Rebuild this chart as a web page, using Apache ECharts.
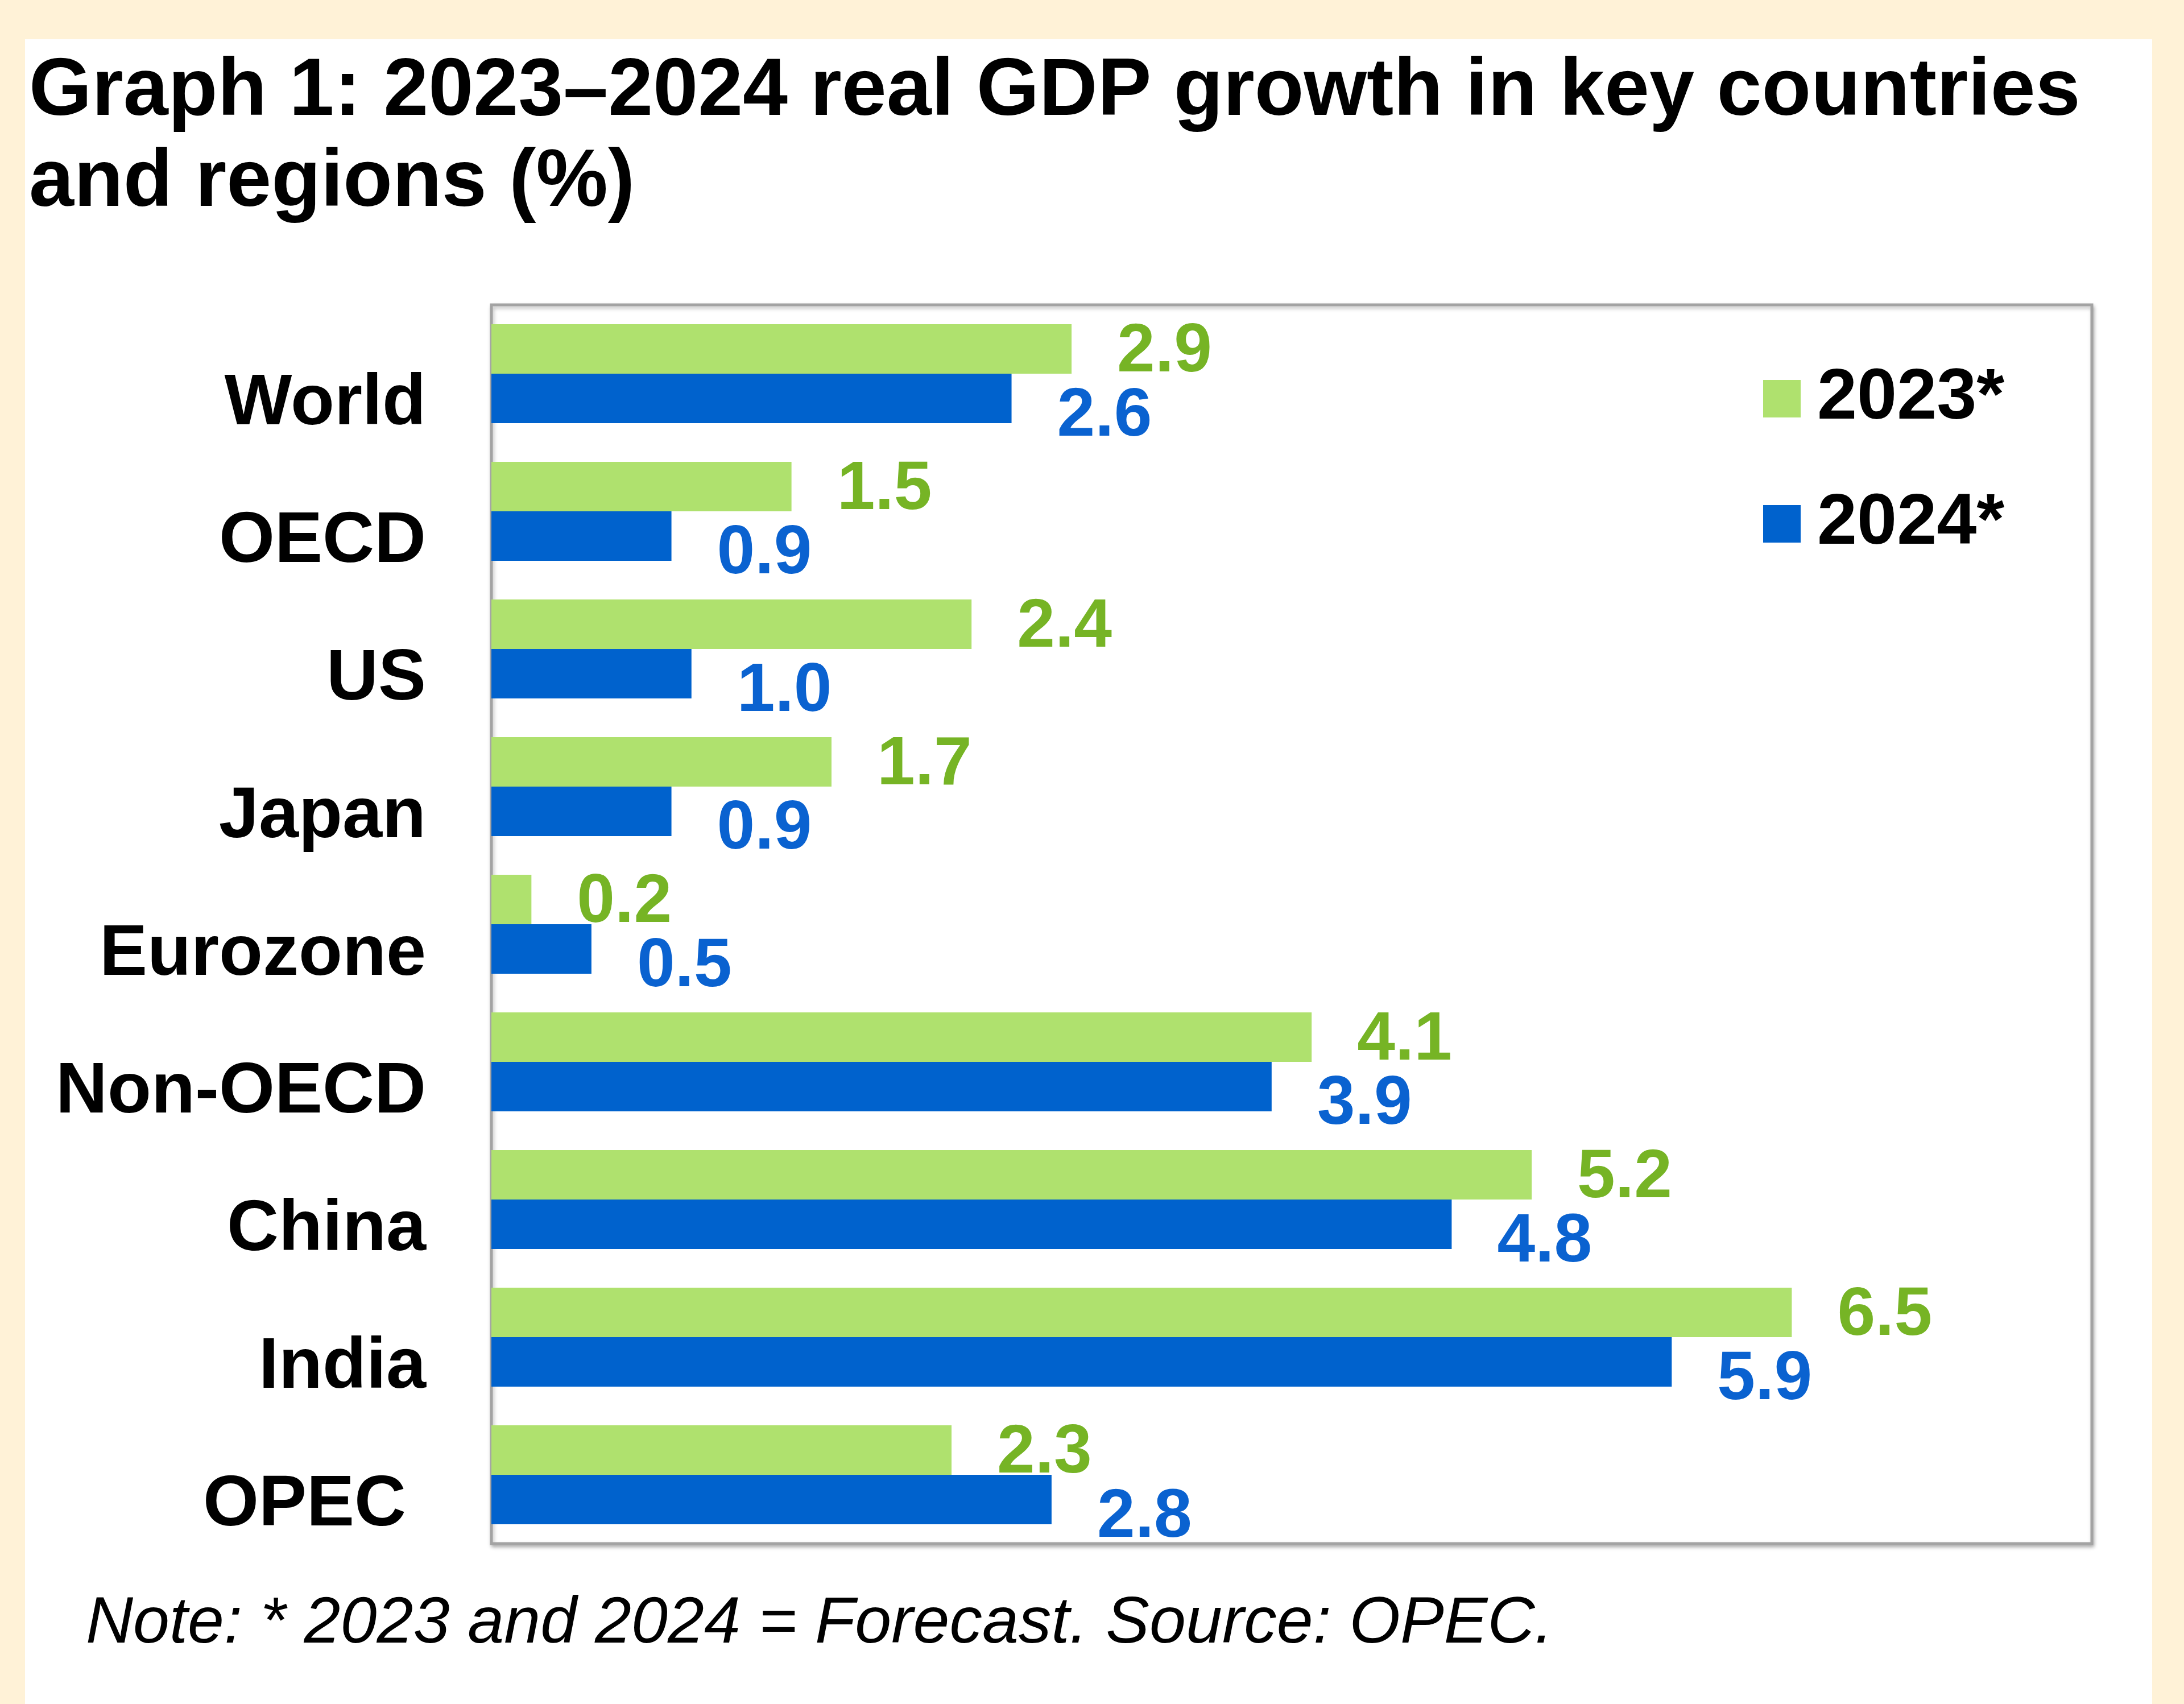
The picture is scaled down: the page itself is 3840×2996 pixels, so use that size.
<!DOCTYPE html>
<html>
<head>
<meta charset="utf-8">
<script src="https://cdn.jsdelivr.net/npm/echarts@6/dist/echarts.min.js"></script>
<style>
html,body{margin:0;padding:0;background:#FFF2D7;}
#chart{width:3840px;height:2996px;}
</style>
</head>
<body>
<div id="chart"></div>
<script>
const categories = ["World", "OECD", "US", "Japan", "Eurozone", "Non-OECD", "China", "India", "OPEC "];
const seriesNames = ["2023*", "2024*"];
const values2023 = [2.9, 1.5, 2.4, 1.7, 0.2, 4.1, 5.2, 6.5, 2.3];
const values2024 = [2.6, 0.9, 1.0, 0.9, 0.5, 3.9, 4.8, 5.9, 2.8];
const titleText = "Graph 1: 2023\u20132024 real GDP growth in key countries\nand regions (%)";
const noteText = "Note: * 2023 and 2024 = Forecast. Source: OPEC.";

const FONT = "'Liberation Sans', Arial, sans-serif";
const GREEN = "#AFE16E", BLUE = "#0062CD";
const GREEN_TXT = "#76B425", BLUE_TXT = "#0A62D0";

const chart = echarts.init(document.getElementById('chart'), null, {renderer: 'canvas'});
chart.setOption({
  backgroundColor: '#FFF2D7',
  animation: false,
  graphic: [{
    type: 'rect', z: -10, silent: true,
    shape: {x: 44, y: 69, width: 3740, height: 2927},
    style: {fill: '#FFFFFF'}
  }],
  title: [{
    text: titleText,
    left: 46, top: 78,
    textStyle: {fontFamily: FONT, fontWeight: 'bold', fontSize: 142, lineHeight: 160, color: '#000'}
  }, {
    text: noteText,
    left: 146, top: 2781,
    textStyle: {fontFamily: FONT, fontStyle: 'italic', fontWeight: 'normal', fontSize: 115, lineHeight: 140, color: '#000'}
  }],
  legend: {
    orient: 'vertical',
    left: 3095, top: 633,
    icon: 'rect',
    itemWidth: 66, itemHeight: 66,
    itemGap: 94,
    data: seriesNames,
    textStyle: {fontFamily: FONT, fontWeight: 'bold', fontSize: 126, lineHeight: 126, color: '#000', padding: [0, 0, 0, 24]}
  },
  grid: {
    left: 864, right: 162, top: 536, bottom: 282,
    show: true, backgroundColor: '#FFFFFF',
    borderColor: '#A3A3A3', borderWidth: 5,
    shadowColor: 'rgba(0,0,0,0.25)', shadowBlur: 6, shadowOffsetX: 2, shadowOffsetY: 4
  },
  xAxis: {
    type: 'value', min: 0, max: 8,
    show: false,
    splitLine: {show: false}
  },
  yAxis: {
    type: 'category', inverse: true,
    data: categories,
    axisLine: {show: false}, axisTick: {show: false},
    axisLabel: {fontFamily: FONT, fontWeight: 'bold', fontSize: 126, color: '#000', margin: 115,
      verticalAlign: 'top', lineHeight: 108}
  },
  series: [{
    name: seriesNames[0], type: 'bar', data: values2023,
    barCategoryGap: '28%', barGap: '0%',
    itemStyle: {color: GREEN},
    label: {show: true, position: 'right', distance: 80, offset: [0, 6], formatter: p => p.value.toFixed(1),
      fontFamily: FONT, fontWeight: 'bold', fontSize: 120, color: GREEN_TXT}
  }, {
    name: seriesNames[1], type: 'bar', data: values2024,
    barCategoryGap: '28%', barGap: '0%',
    itemStyle: {color: BLUE},
    label: {show: true, position: 'right', distance: 80, offset: [0, 32], formatter: p => p.value.toFixed(1),
      fontFamily: FONT, fontWeight: 'bold', fontSize: 120, color: BLUE_TXT}
  }]
});
</script>
</body>
</html>
